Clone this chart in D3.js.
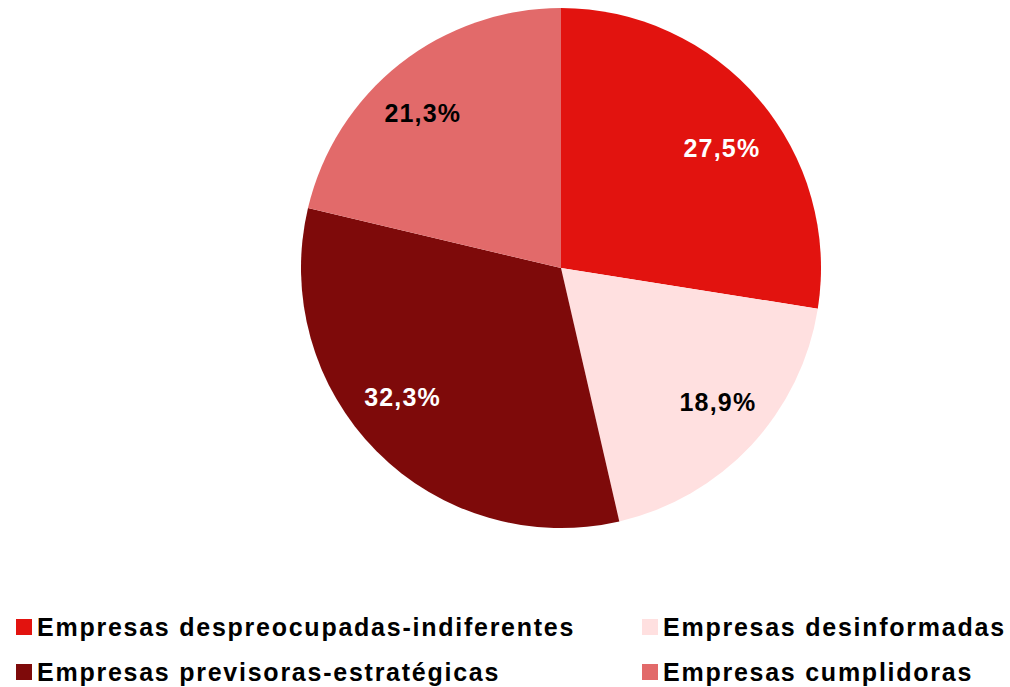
<!DOCTYPE html>
<html>
<head>
<meta charset="utf-8">
<script src="https://cdn.jsdelivr.net/npm/d3@7"></script>
<style>
  body { margin: 0; background: #fff; }
  svg { display: block; font-family: "Liberation Sans", Arial, sans-serif; }
</style>
</head>
<body>
<div id="chart"></div>
<script>
const categories = [
    "Empresas despreocupadas-indiferentes",
    "Empresas desinformadas",
    "Empresas previsoras-estratégicas",
    "Empresas cumplidoras"
];
const values = [27.5, 18.9, 32.3, 21.3];
const labels = ["27,5%", "18,9%", "32,3%", "21,3%"];
const colors = ["#E2130F", "#FFE0E0", "#7E0A0A", "#E26A6A"];
const labelColors = ["#fff", "#000", "#fff", "#000"];
// small label nudges, like the original's label placement
const labelNudge = [[5, 13], [7, -6], [-13, -15], [-11, 6]];

const width = 1010, height = 687;
const cx = 561, cy = 268, radius = 260;

const svg = d3.select("#chart")
    .append("svg")
    .attr("width", width)
    .attr("height", height);

const pie = d3.pie().sort(null).value(d => d);
const arcs = pie(values);

const arc = d3.arc().innerRadius(0).outerRadius(radius);
const labelArc = d3.arc().innerRadius(205).outerRadius(205);

const g = svg.append("g").attr("transform", `translate(${cx},${cy})`);

g.selectAll("path")
    .data(arcs)
    .enter().append("path")
    .attr("d", arc)
    .attr("fill", (d, i) => colors[i]);

g.selectAll("text")
    .data(arcs)
    .enter().append("text")
    .attr("transform", (d, i) => {
        const c = labelArc.centroid(d);
        return `translate(${c[0] + labelNudge[i][0]},${c[1] + labelNudge[i][1]})`;
    })
    .attr("text-anchor", "middle")
    .attr("dy", "0.35em")
    .style("font-size", "25px")
    .style("font-weight", "bold")
    .style("letter-spacing", "1.2px")
    .attr("fill", (d, i) => labelColors[i])
    .text((d, i) => labels[i]);

// legend, 2 columns x 2 rows
const legendX = [16, 642];
const legendY = [619, 664];
const legend = svg.selectAll("g.legend")
    .data(categories)
    .enter().append("g")
    .attr("class", "legend")
    .attr("transform", (d, i) => `translate(${legendX[i % 2]},${legendY[Math.floor(i / 2)]})`);

legend.append("rect")
    .attr("width", 16)
    .attr("height", 16)
    .attr("fill", (d, i) => colors[i]);

legend.append("text")
    .attr("x", 21)
    .attr("y", 17)
    .style("font-size", "25px")
    .style("font-weight", "bold")
    .style("letter-spacing", "1.75px")
    .text(d => d);
</script>
</body>
</html>
